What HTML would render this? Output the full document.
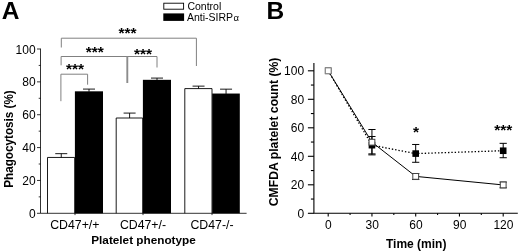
<!DOCTYPE html>
<html><head><meta charset="utf-8"><title>Figure</title>
<style>
html,body{margin:0;padding:0;background:#fff;}
body{width:520px;height:252px;overflow:hidden;}
svg{display:block;font-family:"Liberation Sans",sans-serif;}
.b{font-weight:bold;}
</style></head><body>
<svg width="520" height="252" viewBox="0 0 520 252">
<rect width="520" height="252" fill="#fff"/>

<text x="1.75" y="18.75" class="b" font-size="24.5">A</text>
<g stroke="#000" stroke-width="0.9">
<path d="M61.25 157.44V153.66M55.25 153.66H67.25" fill="none"/>
<path d="M89 91.72V89.09M83 89.09H95" fill="none"/>
<path d="M129.6 118.01V113.08M123.6 113.08H135.6" fill="none"/>
<path d="M157 80.22V78.08M151 78.08H163" fill="none"/>
<path d="M198.55 88.6V86.13M192.55 86.13H204.55" fill="none"/>
<path d="M226.05 93.94V89.17M220.05 89.17H232.05" fill="none"/>
<path d="M47.5 213.3V157.44H74.7V213.3" fill="none"/>
<rect x="74.9" y="91.32" width="28.1" height="121.98" fill="#000" stroke="none"/>
<path d="M116.2 213.3V118.01H142.7V213.3" fill="none"/>
<rect x="142.9" y="79.82" width="28.1" height="133.48" fill="#000" stroke="none"/>
<path d="M184.8 213.3V88.6H212V213.3" fill="none"/>
<rect x="212.2" y="93.54" width="27.6" height="119.76" fill="#000" stroke="none"/>
</g>
<g stroke="#000" stroke-width="0.8" fill="none">
<path d="M40.5 48.6V213.3H246.6"/>
<path d="M37 213.3H40.5"/>
<path d="M37 180.44H40.5"/>
<path d="M37 147.58H40.5"/>
<path d="M37 114.72H40.5"/>
<path d="M37 81.86H40.5"/>
<path d="M37 49H40.5"/>
<path d="M38.7 196.87H40.5"/>
<path d="M38.7 164.01H40.5"/>
<path d="M38.7 131.15H40.5"/>
<path d="M38.7 98.29H40.5"/>
<path d="M38.7 65.43H40.5"/>
<path d="M75 213.3V215.1"/>
<path d="M143 213.3V215.1"/>
<path d="M212 213.3V215.1"/>
</g>
<g font-size="12" text-anchor="end">
<text x="35.6" y="217.9">0</text>
<text x="35.6" y="185.04">20</text>
<text x="35.6" y="152.18">40</text>
<text x="35.6" y="119.32">60</text>
<text x="35.6" y="86.46">80</text>
<text x="35.6" y="53.6">100</text>
</g>
<g font-size="12.3" text-anchor="middle">
<text x="74.8" y="228.6">CD47+/+</text>
<text x="143" y="228.6">CD47+/-</text>
<text x="212" y="228.6">CD47-/-</text>
</g>
<text x="143.5" y="244.4" class="b" font-size="11.75" text-anchor="middle">Platelet phenotype</text>
<text transform="translate(12.8,139) rotate(-90) scale(0.945,1)" class="b" font-size="12.4" text-anchor="middle">Phagocytosis (%)</text>
<g stroke="#808080" stroke-width="1" fill="none">
<path d="M61.3 47.5V38.2H196.4V66"/>
<path d="M61.1 65.3V56.5H157V67.5"/>
<path d="M127.3 56.5V83" stroke="#8c8c8c" stroke-width="1.9"/>
<path d="M60.9 101.2V74.2H87.6V84.7"/>
</g>
<g class="b" font-size="15.5" text-anchor="middle">
<text x="127.5" y="37.85">***</text>
<text x="94.8" y="57.1">***</text>
<text x="143.1" y="59">***</text>
<text x="75" y="73.9">***</text>
</g>
<rect x="163.8" y="3.2" width="19.8" height="6" fill="#fff" stroke="#000" stroke-width="0.9"/>
<rect x="163.3" y="13.4" width="20.8" height="7.5" fill="#000"/>
<text x="187.4" y="9.6" font-size="10.5">Control</text>
<text x="187" y="21.1" font-size="10.5">Anti-SIRP<tspan font-size="9.5" dx="0.3">α</tspan></text>
<text x="266.4" y="18.9" class="b" font-size="24.5">B</text>
<g stroke="#000" stroke-width="1.1" fill="none">
<path d="M313.9 63V213.3H517.8"/>
<path d="M307.9 213.3H313.9"/>
<path d="M307.9 184.8H313.9"/>
<path d="M307.9 156.3H313.9"/>
<path d="M307.9 127.8H313.9"/>
<path d="M307.9 99.3H313.9"/>
<path d="M307.9 70.8H313.9"/>
<path d="M310.9 199.05H313.9"/>
<path d="M310.9 170.55H313.9"/>
<path d="M310.9 142.05H313.9"/>
<path d="M310.9 113.55H313.9"/>
<path d="M310.9 85.05H313.9"/>
<path d="M328.2 213.3V216.6"/>
<path d="M371.95 213.3V216.6"/>
<path d="M415.7 213.3V216.6"/>
<path d="M459.45 213.3V216.6"/>
<path d="M503.2 213.3V216.6"/>
<path d="M350.07 213.3V215.1"/>
<path d="M393.82 213.3V215.1"/>
<path d="M437.57 213.3V215.1"/>
<path d="M481.32 213.3V215.1"/>
</g>
<g font-size="12" text-anchor="end">
<text x="304.1" y="217.8">0</text>
<text x="304.1" y="189.3">20</text>
<text x="304.1" y="160.8">40</text>
<text x="304.1" y="132.3">60</text>
<text x="304.1" y="103.8">80</text>
<text x="304.1" y="75.3">100</text>
</g>
<g font-size="12" text-anchor="middle">
<text x="328.4" y="228.7">0</text>
<text x="372.15" y="228.7">30</text>
<text x="415.9" y="228.7">60</text>
<text x="459.65" y="228.7">90</text>
<text x="503.4" y="228.7">120</text>
</g>
<text x="416.2" y="247.5" class="b" font-size="12" text-anchor="middle">Time (min)</text>
<text transform="translate(278,131.9) rotate(-90) scale(0.984,1)" class="b" font-size="12.4" text-anchor="middle">CMFDA platelet count (%)</text>
<g stroke="#000" stroke-width="1" fill="none">
<path d="M328.2 70.8L371.95 142.19L415.7 176.39L503.2 184.94"/>
<path stroke-width="1.3" stroke-dasharray="1.4 1.93" d="M328.2 70.8L371.95 145.19L415.7 153.59L503.2 150.74"/>
<path d="M371.95 129.51V154.88M368.35 129.51H375.55M368.35 154.88H375.55"/>
<path d="M415.7 173.54V179.53M412.1 173.54H419.3M412.1 179.53H419.3"/>
<path d="M503.2 182.09V187.79M499.6 182.09H506.8M499.6 187.79H506.8"/>
<path d="M371.95 136.49V153.88M368.35 136.49H375.55M368.35 153.88H375.55"/>
<path d="M415.7 144.47V162.29M412.1 144.47H419.3M412.1 162.29H419.3"/>
<path d="M503.2 143.33V157.73M499.6 143.33H506.8M499.6 157.73H506.8"/>
</g>
<rect x="324.9" y="67.5" width="6.6" height="6.6" fill="#000"/>
<rect x="368.65" y="141.88" width="6.6" height="6.6" fill="#000"/>
<rect x="412.4" y="150.29" width="6.6" height="6.6" fill="#000"/>
<rect x="499.9" y="147.44" width="6.6" height="6.6" fill="#000"/>
<rect x="325.3" y="67.9" width="5.8" height="5.8" fill="#fff" stroke="#888"/>
<rect x="369.05" y="139.29" width="5.8" height="5.8" fill="#fff" stroke="#444"/>
<rect x="412.8" y="173.49" width="5.8" height="5.8" fill="#fff" stroke="#444"/>
<rect x="500.3" y="182.04" width="5.8" height="5.8" fill="#fff" stroke="#444"/>
<g class="b" font-size="15.5" text-anchor="middle">
<text x="416.1" y="136.6">*</text>
<text x="503.2" y="134.7">***</text>
</g>
</svg>
</body></html>
